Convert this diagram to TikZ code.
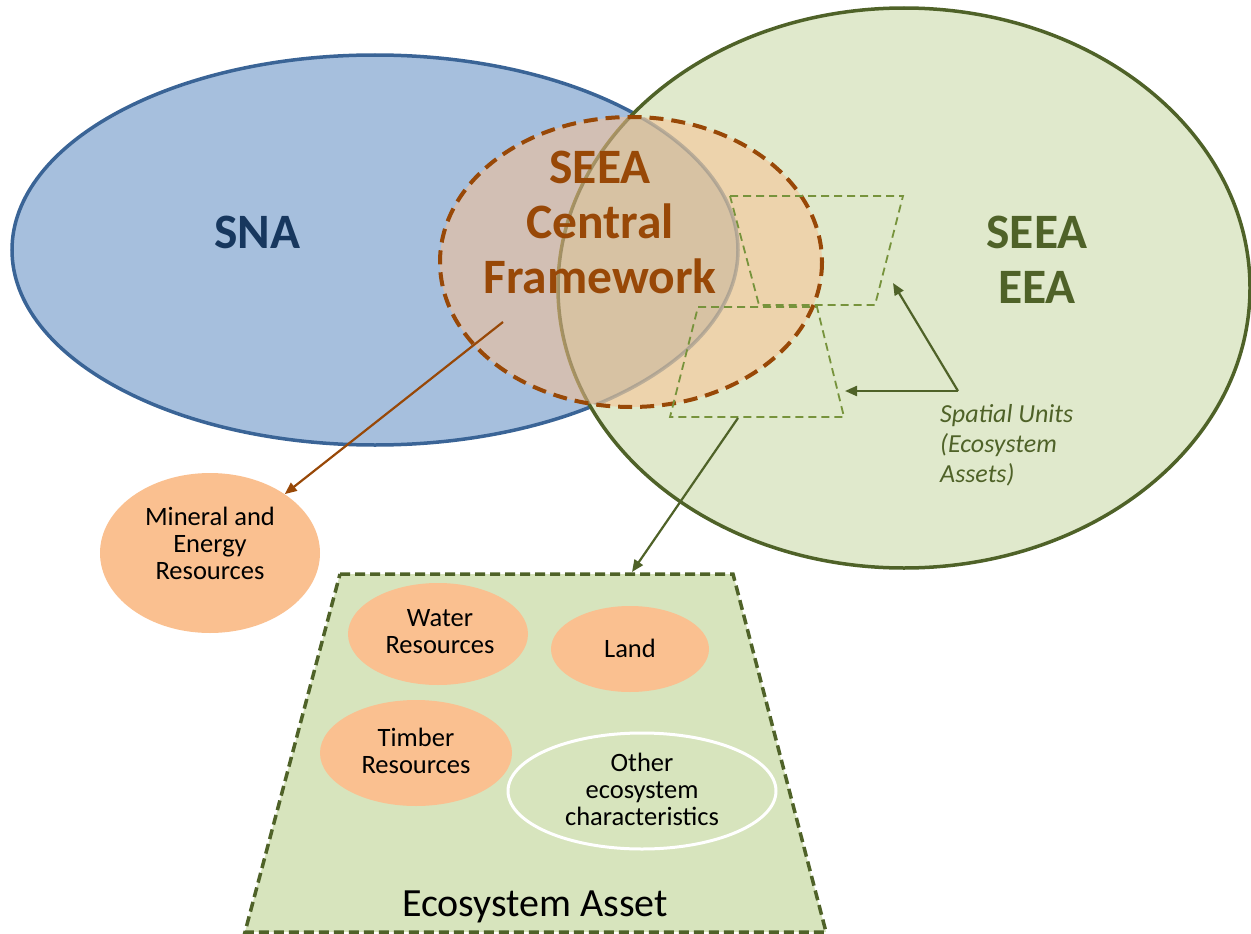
\documentclass[tikz,border=0pt]{standalone}
\usepackage{fontspec}
\setmainfont{Carlito}
\usetikzlibrary{shapes.geometric,arrows.meta}
\definecolor{snafill}{HTML}{A6BFDD}
\definecolor{snaline}{HTML}{3A6496}
\definecolor{snatext}{HTML}{17375E}
\definecolor{eeafill}{HTML}{E0E9CC}
\definecolor{eealine}{HTML}{4F6228}
\definecolor{cffill}{HTML}{FAC090}
\definecolor{cfline}{HTML}{984807}
\definecolor{assetfill}{HTML}{D7E4BD}
\definecolor{spatial}{HTML}{77933C}
\tikzset{
  bigtxt/.style={font=\fontsize{49.5}{55}\selectfont\bfseries, align=center},
  restxt/.style={font=\fontsize{26.5}{27}\selectfont, align=center, text=black},
  resell/.style={ellipse, fill=cffill, inner sep=0pt},
  spatialbox/.style={draw=spatial, line width=1.8pt, dash pattern=on 8pt off 5pt},
  arr/.style={-{Triangle[length=12pt,width=10pt]}, line width=2.2pt},
}
\begin{document}
\begin{tikzpicture}[x=1pt,y=-1pt]
\useasboundingbox (0,0) rectangle (1251,934);
% SNA
\fill[snafill] (375,250) ellipse [x radius=363, y radius=195];
\draw[snaline, line width=3.5pt] (375,250) ellipse [x radius=363, y radius=195];
% SEEA EEA
\fill[eeafill] (904,288) ellipse [x radius=346, y radius=280];
\draw[eealine, line width=3.5pt] (904,288) ellipse [x radius=346, y radius=280];
% central framework fill
\fill[cffill, opacity=0.53] (631,262) ellipse [x radius=191, y radius=145];
% lens
\begin{scope}
  \clip (631,262) ellipse [x radius=191, y radius=145];
  \clip (904,288) ellipse [x radius=346, y radius=280];
  \fill[gray, opacity=0.2] (375,250) ellipse [x radius=363, y radius=195];
  \draw[gray, opacity=0.45, line width=3.5pt] (375,250) ellipse [x radius=363, y radius=195];
\end{scope}
\draw[cfline, line width=4pt, dash pattern=on 14pt off 8pt] (631,262) ellipse [x radius=191, y radius=145];
% texts
\node[bigtxt, text=snatext] (sna) at (257,232) {SNA};
\node[bigtxt, text=eealine] (eea) at (1037,260) {SEEA\\EEA};
\node[bigtxt, text=cfline] (cf) at (600,222) {SEEA\\Central\\Framework};
% spatial units boxes
\draw[spatialbox] (730,196) -- (903,196) -- (875,305) -- (759,305) -- cycle;
\draw[spatialbox] (698,307) -- (817,307) -- (844,417) -- (670,417) -- cycle;
\node[font=\fontsize{26}{30}\selectfont\itshape, text=eealine, align=left, anchor=north west, inner sep=0pt] (su) at (940,404) {Spatial Units\\(Ecosystem\\Assets)};
\coordinate (sufrom) at (958,391);
\coordinate (suto1) at (893,283);
\coordinate (suto2) at (845,391);
\draw[arr, eealine] (sufrom) -- (suto1);
\draw[arr, eealine] (sufrom) -- (suto2);
% Mineral
\node[resell, minimum width=220pt, minimum height=160pt] (min) at (210,553) {};
\node[restxt] (mintxt) at (210,543) {Mineral and\\Energy\\Resources};
\coordinate (cfstart) at (503,322);
\draw[arr, cfline] (cfstart) -- (min);
% Ecosystem asset trapezoid
\draw[fill=assetfill, draw=eealine, line width=3.5pt, dash pattern=on 10pt off 5pt] (340,574) -- (733,574) -- (826,932) -- (245,932) -- cycle;
\coordinate (assettop) at (632,572);
\coordinate (eastart) at (738,418);
\draw[arr, eealine] (eastart) -- (assettop);
\node[resell, minimum width=180pt, minimum height=102pt] (water) at (438,634) {};
\node[restxt] (watertxt) at (440,632) {Water\\Resources};
\node[resell, minimum width=158pt, minimum height=86pt] (land) at (630,649) {};
\node[restxt] (landtxt) at (630,648) {Land};
\node[resell, minimum width=192pt, minimum height=106pt] (timber) at (416,753) {};
\node[restxt] (timbertxt) at (416,751) {Timber\\Resources};
\node[ellipse, draw=white, line width=3pt, minimum width=268pt, minimum height=116pt, inner sep=0pt] (other) at (642,791) {};
\node[restxt] (othertxt) at (642,789) {Other\\ecosystem\\characteristics};
\node[font=\fontsize{40}{44}\selectfont] (asset) at (535,907) {Ecosystem Asset};
\end{tikzpicture}
\end{document}
